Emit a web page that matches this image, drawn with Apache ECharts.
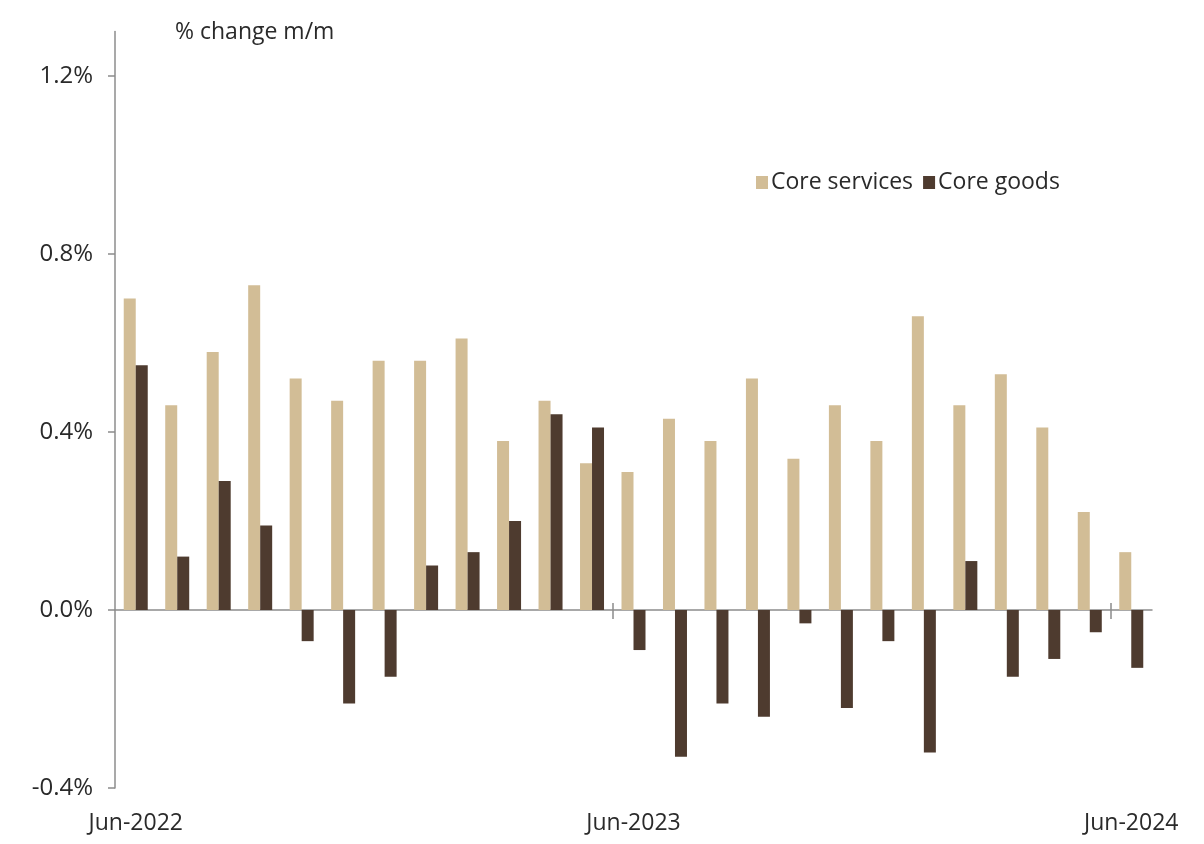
<!DOCTYPE html>
<html>
<head>
<meta charset="utf-8">
<script src="https://cdn.jsdelivr.net/npm/echarts@6/dist/echarts.min.js"></script>
<style>
  html, body { margin: 0; padding: 0; background: #ffffff; }
  #chart { width: 1204px; height: 844px; }
</style>
</head>
<body>
<div id="chart"></div>
<script>
// Monthly categories, Jun-2022 .. Jun-2024
const months = [
  'Jun-2022', 'Jul-2022', 'Aug-2022', 'Sep-2022', 'Oct-2022', 'Nov-2022', 'Dec-2022',
  'Jan-2023', 'Feb-2023', 'Mar-2023', 'Apr-2023', 'May-2023', 'Jun-2023', 'Jul-2023',
  'Aug-2023', 'Sep-2023', 'Oct-2023', 'Nov-2023', 'Dec-2023', 'Jan-2024', 'Feb-2024',
  'Mar-2024', 'Apr-2024', 'May-2024', 'Jun-2024'
];

// % change m/m
const coreServices = [
  0.70, 0.46, 0.58, 0.73, 0.52, 0.47, 0.56, 0.56, 0.61, 0.38, 0.47, 0.33, 0.31,
  0.43, 0.38, 0.52, 0.34, 0.46, 0.38, 0.66, 0.46, 0.53, 0.41, 0.22, 0.13
];
const coreGoods = [
  0.55, 0.12, 0.29, 0.19, -0.07, -0.21, -0.15, 0.10, 0.13, 0.20, 0.44, 0.41, -0.09,
  -0.33, -0.21, -0.24, -0.03, -0.22, -0.07, -0.32, 0.11, -0.15, -0.11, -0.05, -0.13
];

const yTicks = [-0.4, 0.0, 0.4, 0.8, 1.2];
// month-slot positions of the year-boundary ticks (before Jun-2023 and Jun-2024)
const yearBoundaries = [12, 24];

const FONT = '"Open Sans", "Noto Sans", sans-serif';
const TEXT = '#2a2a2a';
const AXIS = '#8c8c8c';
const FS = 23;

const chart = echarts.init(document.getElementById('chart'), null, { renderer: 'canvas' });

// a value scale spanning the month slots, used only for the boundary ticks on the zero line
const boundaryAxis = (inside, length) => ({
  type: 'value',
  min: 0,
  max: months.length,
  position: 'bottom',
  axisLine: { show: false, onZero: true, onZeroAxisIndex: 0 },
  axisTick: { show: true, inside: inside, length: length, customValues: yearBoundaries,
              lineStyle: { color: AXIS, width: 1.5 } },
  axisLabel: { show: false },
  splitLine: { show: false }
});

chart.setOption({
  animation: false,
  backgroundColor: '#ffffff',
  textStyle: { fontFamily: FONT },
  title: {
    text: '% change m/m',
    left: 170,
    top: 16,
    textStyle: { fontFamily: FONT, fontSize: FS, fontWeight: 'normal', color: TEXT }
  },
  legend: {
    left: 751,
    top: 166,
    itemWidth: 12,
    itemHeight: 13,
    itemGap: 10,
    icon: 'rect',
    textStyle: { fontFamily: FONT, fontSize: FS, color: TEXT, padding: [0, 0, 0, -2] },
    data: ['Core services', 'Core goods']
  },
  grid: { left: 115, right: 52, top: 31.5, bottom: 56, containLabel: false },
  xAxis: [
    {
      // zero line carrying the bars
      type: 'category',
      data: months,
      position: 'bottom',
      axisLine: { onZero: true, onZeroAxisIndex: 0, lineStyle: { color: AXIS, width: 1.5 } },
      axisTick: { show: false },
      axisLabel: { show: false },
      splitLine: { show: false }
    },
    boundaryAxis(false, 9),
    boundaryAxis(true, 7),
    {
      // month labels along the bottom of the plot
      type: 'category',
      data: months,
      position: 'bottom',
      axisLine: { show: false, onZero: false },
      axisTick: { show: false },
      axisLabel: {
        show: true, interval: 11, margin: 24,
        fontFamily: FONT, fontSize: FS, color: TEXT
      },
      splitLine: { show: false }
    }
  ],
  yAxis: {
    type: 'value',
    min: -0.4,
    max: 1.3,
    interval: 0.4,
    axisLine: { show: true, lineStyle: { color: AXIS, width: 1.5 } },
    axisTick: { show: true, length: 7, customValues: yTicks, lineStyle: { color: AXIS, width: 1.5 } },
    axisLabel: {
      customValues: yTicks,
      margin: 22,
      fontFamily: FONT, fontSize: 24, color: TEXT,
      formatter: (v) => v.toFixed(1) + '%'
    },
    splitLine: { show: false }
  },
  series: [
    {
      name: 'Core services',
      type: 'bar',
      xAxisIndex: 0,
      data: coreServices,
      barWidth: 12,
      barGap: '0%',
      itemStyle: { color: '#d2bd96' }
    },
    {
      name: 'Core goods',
      type: 'bar',
      xAxisIndex: 0,
      data: coreGoods,
      barWidth: 12,
      barGap: '0%',
      itemStyle: { color: '#4e3b2f' }
    }
  ]
});
</script>
</body>
</html>
